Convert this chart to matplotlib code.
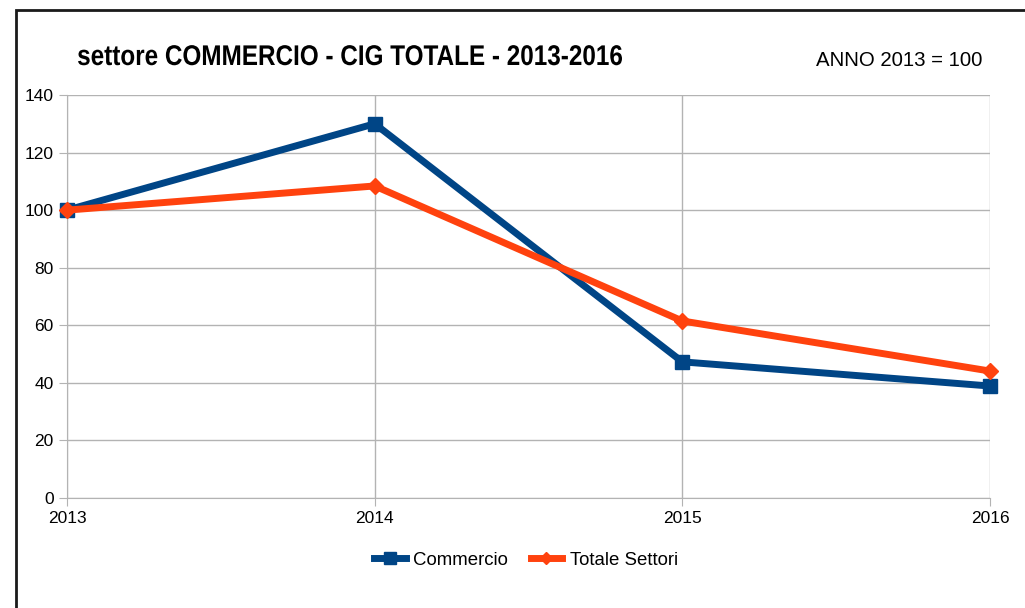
import matplotlib
matplotlib.use("Agg")
import matplotlib.pyplot as plt
from matplotlib.patches import Rectangle, PathPatch
from matplotlib.textpath import TextPath
from matplotlib.font_manager import FontProperties
from matplotlib.transforms import Affine2D

years = [2013, 2014, 2015, 2016]
commercio = [100, 130, 47.3, 38.9]
totale = [100, 108.4, 61.5, 44.1]
yticks = [0, 20, 40, 60, 80, 100, 120, 140]
title = 'settore COMMERCIO - CIG TOTALE - 2013-2016'

plt.rcParams['font.family'] = ['Liberation Sans', 'DejaVu Sans']

W, H = 1025, 608
fig = plt.figure(figsize=(W / 100, H / 100), dpi=100)
fig.patches.append(Rectangle((16 / W, -0.1), 1.2, 1 - 10 / H + 0.1,
                             transform=fig.transFigure, fill=False,
                             edgecolor='#1a1a1a', linewidth=2, zorder=0))

ax = fig.add_axes([67 / W, 1 - 498 / H, (990 - 67) / W, (498 - 95) / H])
ax.plot(years, commercio, color='#004586', linewidth=5, marker='s',
        markersize=10, label='Commercio', clip_on=False, zorder=3)
ax.plot(years, totale, color='#ff420e', linewidth=5, marker='D',
        markersize=8, label='Totale Settori', clip_on=False, zorder=4)

ax.set_xlim(2013, 2016)
ax.set_ylim(0, 140)
ax.set_xticks(years)
ax.set_yticks(yticks)
ax.grid(True, color='#b3b3b3', linewidth=1)
ax.set_axisbelow(True)
for s in ['top', 'right']:
    ax.spines[s].set_visible(False)
for s in ['left', 'bottom']:
    ax.spines[s].set_color('#b3b3b3')
ax.tick_params(colors='#b3b3b3', labelcolor='black', labelsize=12.5, length=6)

# condensed bold title (no narrow font installed, so squeeze a text path)
tp = TextPath((0, 0), title, size=28.5,
              prop=FontProperties(family='Liberation Sans', weight='bold'))
bb = tp.get_extents()
sx = (622 - 78) / bb.width
tr = Affine2D().translate(-bb.x0, 0).scale(sx, 1).translate(78, H - 65)
fig.patches.append(PathPatch(tp, transform=tr, facecolor='black',
                             edgecolor='none'))

fig.text(982 / W, 1 - 60 / H, 'ANNO 2013 = 100', fontsize=14.7,
         va='center', ha='right')

fig.legend(loc='center', bbox_to_anchor=(526 / W, 1 - 560 / H), ncol=2,
           frameon=False, fontsize=13.4, handlelength=1.7, handletextpad=0.4,
           columnspacing=1.2, markerscale=0.8)

fig.savefig('out.png', dpi=100)
